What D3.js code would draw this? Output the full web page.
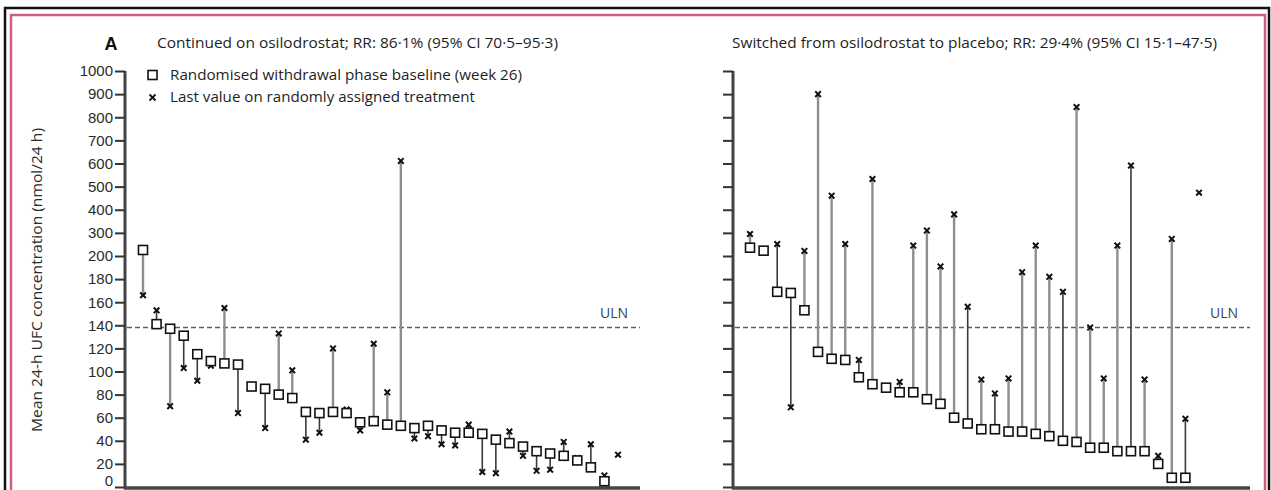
<!DOCTYPE html>
<html><head><meta charset="utf-8">
<script src="https://cdn.jsdelivr.net/npm/d3@7"></script>
<style>html,body{margin:0;padding:0;background:#fff;} svg{display:block;}</style>
</head><body>
<svg id="chart" width="1271" height="490"></svg>
<script>
// ---- data ----
const yTickValues = [0,20,40,60,80,100,120,140,160,180,200,300,400,500,600,700,800,900,1000];
const ULN = 138;
const titleLeft = "Continued on osilodrostat; RR: 86·1% (95% CI 70·5–95·3)";
const titleRight = "Switched from osilodrostat to placebo; RR: 29·4% (95% CI 15·1–47·5)";
const legendLabels = ["Randomised withdrawal phase baseline (week 26)", "Last value on randomly assigned treatment"];
const yLabel = "Mean 24-h UFC concentration (nmol/24 h)";

// Left panel: continued on osilodrostat
const leftBaseline = [226,141,137,131,115,109,107,106,87,85,80,77,65,64,65,64,56,57,54,53,51,53,49,47,47,46,41,38,35,31,29,27,23,17,5,null];
const leftLast     = [166,153,70,103,92,105,155,64,null,51,133,101,41,47,120,67,49,124,82,611,42,44,37,36,54,13,12,48,27,14,15,39,25,37,10,28];
const leftDark     = [0,1,0,1,1,1,0,1,0,1,0,0,1,1,0,1,1,0,0,0,1,1,1,1,1,1,1,1,1,1,1,1,1,1,1,0];

// Right panel: switched to placebo
const rightBaseline = [236,223,169,168,153,117,111,110,95,89,86,82,82,76,72,60,55,50,50,48,48,46,44,40,39,34,34,31,31,31,20,8,8,null];
const rightLast     = [295,null,252,69,222,900,461,252,110,533,null,91,245,310,191,380,156,93,81,94,186,245,182,169,844,138,94,245,591,93,27,274,59,474];
const rightDark     = [0,0,1,1,0,0,0,0,1,0,0,1,0,0,0,0,1,0,1,0,0,0,0,1,0,0,0,0,1,0,1,0,1,0];

// ---- drawing ----
const svg = d3.select("#chart");
const FONT = "'Liberation Sans Narrow','Open Sans','Liberation Sans',sans-serif";
const TICKFONT = "'Liberation Sans',Arial,sans-serif";

// frame
svg.append("rect").attr("x",5).attr("y",8).attr("width",1264).attr("height",520)
  .attr("fill","none").attr("stroke","#111").attr("stroke-width",2.5);
svg.append("rect").attr("x",11).attr("y",15).attr("width",1254).attr("height",520)
  .attr("fill","none").attr("stroke","#cf5f80").attr("stroke-width",2.5);

const y = d3.scaleLinear().domain([0,200,1000]).range([487,256,71]);

function panel(opts){
  const {axisX, axisEnd, firstX, lastX, base, last, dark, labels} = opts;
  const n = base.length;
  const x = d3.scaleLinear().domain([0, n-1]).range([firstX, lastX]);
  const g = svg.append("g");

  // y axis
  const ax = d3.axisLeft(y).tickValues(yTickValues).tickSize(10).tickPadding(2)
    .tickFormat(labels ? d3.format("d") : () => "");
  const ag = g.append("g").attr("transform", `translate(${axisX},0)`).call(ax);
  ag.select(".domain").attr("stroke","#444").attr("stroke-width",3).attr("d", `M0,${y(1000)}V${y(0)+2}`);
  ag.selectAll(".tick line").attr("stroke","#333").attr("stroke-width",2);
  ag.selectAll(".tick text").attr("fill","#2b2b2b").style("font-family",TICKFONT).style("font-size","15px")
    .attr("dy", d => d === 0 ? "-0.07em" : "0.32em");

  // x axis baseline
  g.append("line").attr("x1",axisX-1).attr("x2",axisEnd).attr("y1",488).attr("y2",488)
    .attr("stroke","#444").attr("stroke-width",3.5);

  // ULN
  g.append("line").attr("x1",axisX+2).attr("x2",axisEnd).attr("y1",y(ULN)).attr("y2",y(ULN))
    .attr("stroke","#46617a").attr("stroke-width",1.5).attr("stroke-dasharray","5,3");
  g.append("text").attr("x",axisEnd-12).attr("y",y(ULN)-10).attr("text-anchor","end")
    .attr("fill","#2f3f5a").style("font-family",FONT).style("font-size","14px").text("ULN");

  const idx = d3.range(n);
  // connecting lines
  g.selectAll("line.seg").data(idx.filter(i => base[i]!=null && last[i]!=null)).join("line")
    .attr("class","seg")
    .attr("x1", i => x(i)).attr("x2", i => x(i))
    .attr("y1", i => y(base[i])).attr("y2", i => y(last[i]))
    .attr("stroke", i => dark[i] ? "#3a3a3a" : "#8e8e8e")
    .attr("stroke-width", i => dark[i] ? 1.6 : 2.4);
  // crosses
  g.selectAll("path.cross").data(idx.filter(i => last[i]!=null)).join("path")
    .attr("class","cross")
    .attr("d", i => { const cx=x(i), cy=y(last[i]); return `M${cx-2.8},${cy-2.8}L${cx+2.8},${cy+2.8}M${cx-2.8},${cy+2.8}L${cx+2.8},${cy-2.8}`; })
    .attr("stroke","#111").attr("stroke-width",2);
  // squares
  g.selectAll("rect.sq").data(idx.filter(i => base[i]!=null)).join("rect")
    .attr("class","sq")
    .attr("x", i => x(i)-4.5).attr("y", i => y(base[i])-4.5)
    .attr("width",9).attr("height",9)
    .attr("fill","#fff").attr("stroke","#111").attr("stroke-width",1.6);
}

panel({axisX:125, axisEnd:640, firstX:143, lastX:618, base:leftBaseline, last:leftLast, dark:leftDark, labels:true});
panel({axisX:733, axisEnd:1250, firstX:750, lastX:1199, base:rightBaseline, last:rightLast, dark:rightDark, labels:false});

// titles
svg.append("text").attr("x",111).attr("y",50).attr("text-anchor","middle")
  .attr("fill","#111").style("font-family","'Liberation Sans',sans-serif").style("font-weight","bold").style("font-size","18px").text("A");
svg.append("text").attr("x",157).attr("y",48).attr("fill","#1e1e1e")
  .attr("textLength",401).attr("lengthAdjust","spacingAndGlyphs")
  .style("font-family",FONT).style("font-size","15px").text(titleLeft);
svg.append("text").attr("x",732).attr("y",48).attr("fill","#1e1e1e")
  .attr("textLength",485).attr("lengthAdjust","spacingAndGlyphs")
  .style("font-family",FONT).style("font-size","15px").text(titleRight);

// legend
svg.append("rect").attr("x",148).attr("y",70.5).attr("width",9).attr("height",9)
  .attr("fill","#fff").attr("stroke","#111").attr("stroke-width",1.6);
svg.append("path").attr("d","M149.5,94.5L155.5,100.5M149.5,100.5L155.5,94.5").attr("stroke","#111").attr("stroke-width",1.8);
svg.append("text").attr("x",170).attr("y",80).attr("fill","#1e1e1e")
  .attr("textLength",352).attr("lengthAdjust","spacingAndGlyphs")
  .style("font-family",FONT).style("font-size","15px").text(legendLabels[0]);
svg.append("text").attr("x",170).attr("y",102).attr("fill","#1e1e1e")
  .attr("textLength",305).attr("lengthAdjust","spacingAndGlyphs")
  .style("font-family",FONT).style("font-size","15px").text(legendLabels[1]);

// y label
svg.append("text").attr("transform","translate(42,280) rotate(-90)").attr("text-anchor","middle")
  .attr("fill","#2b2b2b").attr("textLength",304).attr("lengthAdjust","spacingAndGlyphs")
  .style("font-family",FONT).style("font-size","14px").text(yLabel);
</script>
</body></html>
